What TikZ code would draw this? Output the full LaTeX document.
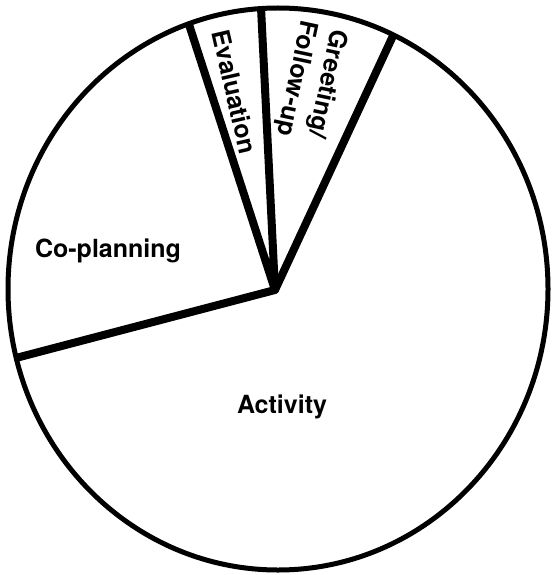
\documentclass[tikz,border=0pt]{standalone}
\usepackage{fontspec}
\setmainfont{TeX Gyre Heros}
\begin{document}
\begin{tikzpicture}[x=1pt,y=-1pt,
  outline/.style={line width=5pt},
  spoke/.style={line width=8pt,line cap=butt,line join=round},
  lbl/.style={font=\fontsize{25}{28}\selectfont\bfseries,inner sep=0pt}]
\useasboundingbox (0,0) rectangle (553,575);
\fill[white] (0,0) rectangle (553,575);
\coordinate (c) at (278,289);
\coordinate (apex) at (275,290);
\coordinate (e1) at ({278+270*cos(109.3)},{289-281*sin(109.3)});
\coordinate (e2) at ({278+270*cos(93.6)},{289-281*sin(93.6)});
\coordinate (e3) at ({278+270*cos(64.7)},{289-281*sin(64.7)});
\coordinate (e4) at ({278+270*cos(194.2)},{289-281*sin(194.2)});
\draw[outline] (c) ellipse [x radius=270, y radius=281];
\draw[spoke] (e1) -- (apex) -- (e2);
\draw[spoke] (e3) -- (apex) -- (e4);
\node[lbl] (coplan) at (108,251) {Co-planning};
\node[lbl] (act) at (282,407) {Activity};
\node[lbl,rotate=-77] (eval) at (235,92) {Evaluation};
\node[lbl,rotate=-102] (greet) at (327,84) {Greeting/};
\node[lbl,rotate=-102] (follow) at (296,78) {Follow-up};
\end{tikzpicture}
\end{document}
